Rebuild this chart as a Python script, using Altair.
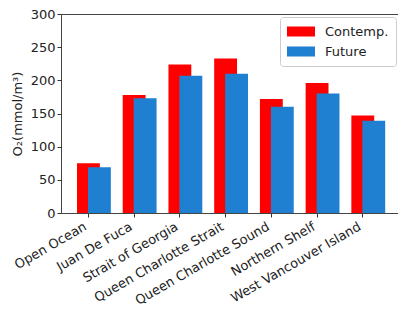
import altair as alt
import pandas as pd

regions = ["Open Ocean", "Juan De Fuca", "Strait of Georgia", "Queen Charlotte Strait",
           "Queen Charlotte Sound", "Northern Shelf", "West Vancouver Island"]
contemp = [75, 178, 224, 233, 172, 196, 147]
future = [69, 173, 207, 210, 160, 180, 139]
series = ["Contemp.", "Future"]
colors = ["#ff0000", "#1f7fd0"]

rows = []
for i, r in enumerate(regions):
    rows.append({"idx": i, "region": r, "series": series[0], "value": contemp[i], "order": 0})
    rows.append({"idx": i, "region": r, "series": series[1], "value": future[i], "order": 1})
df = pd.DataFrame(rows)

label_expr = "[" + ",".join("'%s'" % r for r in regions) + "][datum.value]"

x_scale = alt.Scale(domain=[-0.59, 6.78], nice=False, zero=False, padding=0)
y_scale = alt.Scale(domain=[0, 300], nice=False, padding=0)

bars = alt.Chart(df).transform_calculate(
    x0="datum.idx + (datum.order == 0 ? -0.24 : 0)",
    x1="datum.idx + (datum.order == 0 ? 0.26 : 0.5)",
).mark_bar(opacity=1).encode(
    x=alt.X("x0:Q", scale=x_scale,
            axis=alt.Axis(values=list(range(len(regions))), labelExpr=label_expr,
                          labelAngle=-30, labelAlign="right", labelBaseline="top",
                          labelFontSize=13, labelFont="DejaVu Sans", labelColor="#222",
                          labelOverlap=False, labelBound=False, labelFlush=False,
                          labelOffset=-6,
                          tickSize=4, tickColor="#333", domain=False, grid=False,
                          title=None, labelPadding=3)),
    x2="x1:Q",
    y=alt.Y("value:Q", scale=y_scale,
            axis=alt.Axis(values=[0, 50, 100, 150, 200, 250, 300], grid=False, domain=False,
                          tickSize=4, tickColor="#333", labelFontSize=13,
                          labelFont="DejaVu Sans", labelColor="#222", labelPadding=2,
                          labelFlush=False, labelOverlap=False,
                          title="O₂(mmol/m³)", titleFontSize=13, titleFont="DejaVu Sans",
                          titleFontWeight="normal", titleColor="#222", titlePadding=6)),
    y2=alt.datum(0),
    color=alt.Color("series:N", scale=alt.Scale(domain=series, range=colors),
                    legend=alt.Legend(orient="none", legendX=219, legendY=3, title=None,
                                      symbolType="M-1,-0.36H1V0.36H-1Z", symbolSize=784,
                                      symbolStrokeWidth=0, symbolOpacity=1,
                                      labelFontSize=13, labelFont="DejaVu Sans",
                                      labelColor="#222", clipHeight=15, rowPadding=5,
                                      padding=7, labelOffset=10,
                                      strokeColor="#cccccc", cornerRadius=3,
                                      fillColor="white")),
    order=alt.Order("order:Q"),
)

chart = bars.properties(
    width=337, height=199,
    autosize=alt.AutoSizeParams(type="none"),
    padding={"left": 53, "top": 6, "right": 0, "bottom": 94},
).configure_view(stroke="#444", strokeWidth=1)

chart.save("out.html", embed_options={"renderer": "svg", "actions": False})
